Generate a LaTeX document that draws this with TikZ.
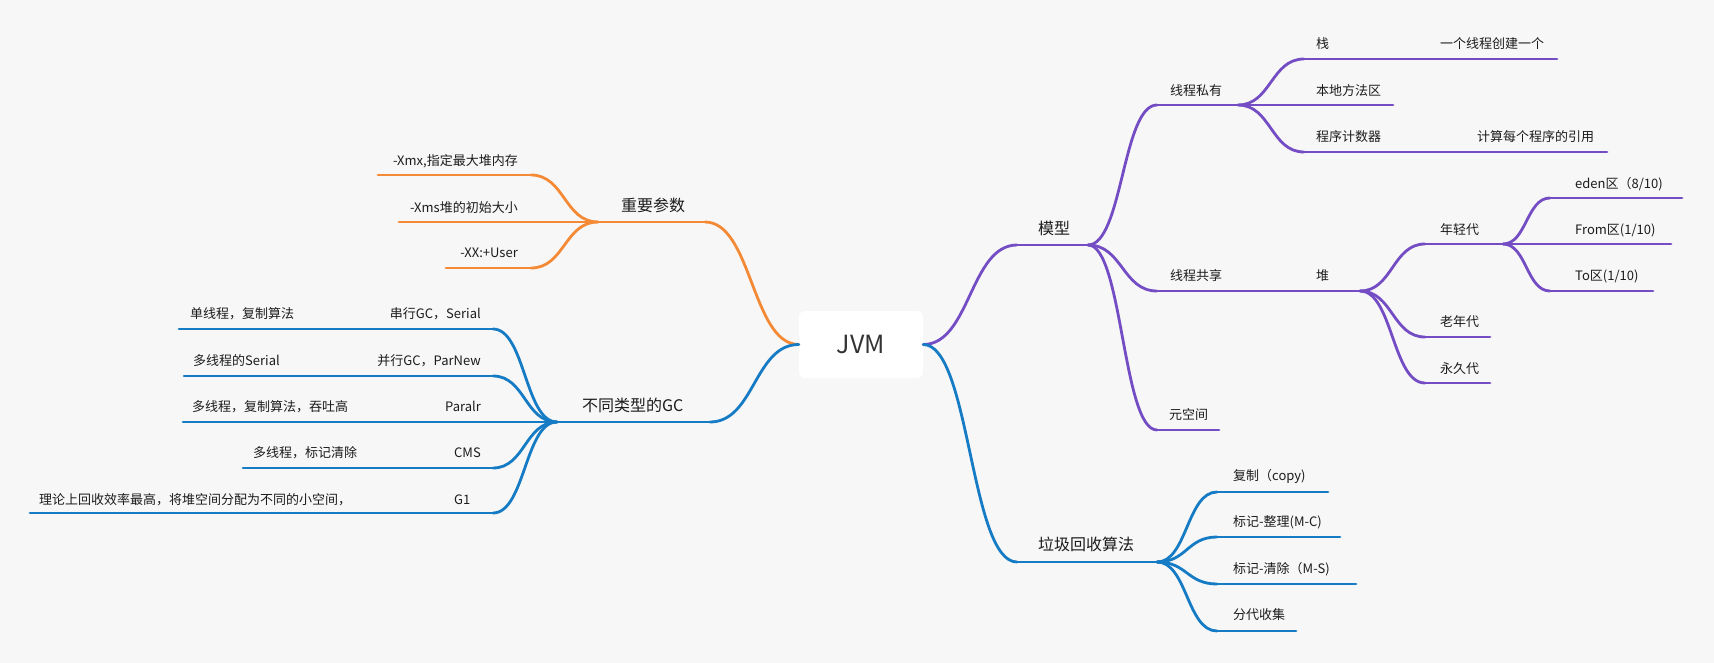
\documentclass[tikz,border=0pt]{standalone}
\usepackage{fontspec}
\setmainfont{Noto Sans CJK SC}
\usetikzlibrary{calc}
\definecolor{bgc}{HTML}{F7F7F7}
\definecolor{txtc}{HTML}{1C1C1C}
\definecolor{jvmc}{HTML}{333333}
\definecolor{orc}{HTML}{F48A36}
\definecolor{puc}{HTML}{744DC4}
\definecolor{blc}{HTML}{157BC4}
\tikzset{
  tx/.style={anchor=west, inner sep=0pt, text=txtc, font=\fontsize{13}{15}\selectfont, text height=0.88em, text depth=0.12em},
  txe/.style={tx, anchor=east},
  bigtx/.style={tx, font=\fontsize{16}{19}\selectfont},
  jvmbox/.style={fill=white, rounded corners=6pt, minimum width=124pt, minimum height=67pt, inner sep=0pt, text=jvmc, font=\fontsize{25}{28}\selectfont},
  orl/.style={draw=orc, line width=2.8pt, line cap=round},
  pul/.style={draw=puc, line width=2.8pt, line cap=round},
  bll/.style={draw=blc, line width=2.8pt, line cap=round}
}
\newcommand\mmlink[3]{\path ($(#2)!0.5!(#3)$) coordinate (mmmid); \draw[#1] (#2) .. controls (mmmid |- #2) and (mmmid |- #3) .. (#3);}
\begin{document}
\begin{tikzpicture}[x=1pt,y=-1pt]
\fill[bgc] (0,0) rectangle (1714,663);
\useasboundingbox (0,0) rectangle (1714,663);

\node[jvmbox] (jvm) at (861,344.5) {JVM};

% ---------- right side: 模型 ----------
\coordinate (mxL) at (1017,245); \coordinate (mxR) at (1088,245);
\coordinate (sL) at (1157,105); \coordinate (sR) at (1238,105);
\coordinate (zhanL) at (1304,59); \coordinate (zhanR) at (1430,59);
\coordinate (yigeL) at (1430,59); \coordinate (yigeR) at (1557,59);
\coordinate (bdL) at (1304,105); \coordinate (bdR) at (1393,105);
\coordinate (pcL) at (1304,152); \coordinate (pcR) at (1465,152);
\coordinate (jsL) at (1465,152); \coordinate (jsR) at (1607,152);
\coordinate (gxL) at (1157,291); \coordinate (gxR) at (1304,291);
\coordinate (duiL) at (1304,291); \coordinate (duiR) at (1360,291);
\coordinate (nqL) at (1425,244); \coordinate (nqR) at (1503,244);
\coordinate (edL) at (1550,198); \coordinate (edR) at (1682,198);
\coordinate (frL) at (1550,244); \coordinate (frR) at (1671,244);
\coordinate (toL) at (1550,291); \coordinate (toR) at (1653,291);
\coordinate (lnL) at (1425,337); \coordinate (lnR) at (1490,337);
\coordinate (yjL) at (1425,383); \coordinate (yjR) at (1490,383);
\coordinate (ykL) at (1157,430); \coordinate (ykR) at (1219,430);

\foreach \a/\b in {mxL/mxR, sL/sR, zhanL/zhanR, yigeL/yigeR, bdL/bdR, pcL/pcR, jsL/jsR, gxL/gxR, duiL/duiR, nqL/nqR, edL/edR, frL/frR, toL/toR, lnL/lnR, yjL/yjR, ykL/ykR}
  \draw[pul] (\a) -- (\b);
\mmlink{pul}{jvm.east}{mxL}
\mmlink{pul}{mxR}{sL}
\mmlink{pul}{mxR}{gxL}
\mmlink{pul}{mxR}{ykL}
\mmlink{pul}{sR}{zhanL}
\mmlink{pul}{sR}{bdL}
\mmlink{pul}{sR}{pcL}
\mmlink{pul}{duiR}{nqL}
\mmlink{pul}{duiR}{lnL}
\mmlink{pul}{duiR}{yjL}
\mmlink{pul}{nqR}{edL}
\mmlink{pul}{nqR}{frL}
\mmlink{pul}{nqR}{toL}

\node[bigtx] (mx) at (1038,231) {模型};
\node[tx] (s) at (1170,92) {线程私有};
\node[tx] (zhan) at (1316,45) {栈};
\node[tx] (yige) at (1440,45) {一个线程创建一个};
\node[tx] (bd) at (1316,92) {本地方法区};
\node[tx] (pc) at (1316,138) {程序计数器};
\node[tx] (js) at (1477,138) {计算每个程序的引用};
\node[tx] (gx) at (1170,277) {线程共享};
\node[tx] (dui) at (1316,277) {堆};
\node[tx] (nq) at (1440,231) {年轻代};
\node[tx] (ed) at (1575,185) {eden区（8/10)};
\node[tx] (fr) at (1575,231) {From区(1/10)};
\node[tx] (to) at (1575,277) {To区(1/10)};
\node[tx] (ln) at (1440,323) {老年代};
\node[tx] (yj) at (1440,370) {永久代};
\node[tx] (yk) at (1169,416) {元空间};

% ---------- right side: 垃圾回收算法 ----------
\coordinate (ljL) at (1017,562); \coordinate (ljR) at (1157,562);
\coordinate (fzL) at (1217,492); \coordinate (fzR) at (1328,492);
\coordinate (zlL) at (1217,537); \coordinate (zlR) at (1340,537);
\coordinate (qcL) at (1217,584); \coordinate (qcR) at (1356,584);
\coordinate (fdL) at (1217,631); \coordinate (fdR) at (1296,631);
\foreach \a/\b in {ljL/ljR, fzL/fzR, zlL/zlR, qcL/qcR, fdL/fdR}
  \draw[bll] (\a) -- (\b);
\mmlink{bll}{jvm.east}{ljL}
\mmlink{bll}{ljR}{fzL}
\mmlink{bll}{ljR}{zlL}
\mmlink{bll}{ljR}{qcL}
\mmlink{bll}{ljR}{fdL}
\node[bigtx] (lj) at (1038,547) {垃圾回收算法};
\node[tx] (fz) at (1233,477) {复制（copy)};
\node[tx] (zl) at (1233,523) {标记-整理(M-C)};
\node[tx] (qc) at (1233,570) {标记-清除（M-S)};
\node[tx] (fd) at (1233,616) {分代收集};

% ---------- left side: 重要参数 ----------
\coordinate (csL) at (598,222); \coordinate (csR) at (705,222);
\coordinate (xmxL) at (378,175); \coordinate (xmxR) at (531,175);
\coordinate (xmsL) at (399,222); \coordinate (xmsR) at (531,222);
\coordinate (xxL) at (446,268); \coordinate (xxR) at (531,268);
\foreach \a/\b in {csL/csR, xmxL/xmxR, xmsL/xmsR, xxL/xxR}
  \draw[orl] (\a) -- (\b);
\mmlink{orl}{jvm.west}{csR}
\mmlink{orl}{csL}{xmxR}
\mmlink{orl}{csL}{xmsR}
\mmlink{orl}{csL}{xxR}
\node[bigtx] (cs) at (621,208) {重要参数};
\node[txe] (xmx) at (518,162) {-Xmx,指定最大堆内存};
\node[txe] (xms) at (518,209) {-Xms堆的初始大小};
\node[txe] (xx) at (518,254) {-XX:+User};

% ---------- left side: 不同类型的GC ----------
\coordinate (gcL) at (557,422); \coordinate (gcR) at (710,422);
\coordinate (cxL) at (380,329); \coordinate (cxR) at (493,329);
\coordinate (dxL) at (179,329); \coordinate (dxR) at (380,329);
\coordinate (bxL) at (365,376); \coordinate (bxR) at (493,376);
\coordinate (dsL) at (184,376); \coordinate (dsR) at (365,376);
\coordinate (plL) at (435,422); \coordinate (plR) at (493,422);
\coordinate (dfL) at (183,422); \coordinate (dfR) at (435,422);
\coordinate (cmL) at (440,468); \coordinate (cmR) at (493,468);
\coordinate (dbL) at (243,468); \coordinate (dbR) at (440,468);
\coordinate (g1L) at (440,513); \coordinate (g1R) at (493,513);
\coordinate (llL) at (30,513); \coordinate (llR) at (440,513);
\foreach \a/\b in {gcL/gcR, cxL/cxR, dxL/dxR, bxL/bxR, dsL/dsR, plL/plR, dfL/dfR, cmL/cmR, dbL/dbR, g1L/g1R, llL/llR}
  \draw[bll] (\a) -- (\b);
\mmlink{bll}{jvm.west}{gcR}
\mmlink{bll}{gcL}{cxR}
\mmlink{bll}{gcL}{bxR}
\mmlink{bll}{gcL}{plR}
\mmlink{bll}{gcL}{cmR}
\mmlink{bll}{gcL}{g1R}
\node[bigtx] (gc) at (582,408) {不同类型的GC};
\node[txe] (cx) at (481,315) {串行GC，Serial};
\node[tx] (dx) at (190,315) {单线程，复制算法};
\node[txe] (bx) at (481,362) {并行GC，ParNew};
\node[tx] (ds) at (193,362) {多线程的Serial};
\node[txe] (pl) at (481,408) {Paralr};
\node[tx] (df) at (192,408) {多线程，复制算法，吞吐高};
\node[tx] (cm) at (454,454) {CMS};
\node[tx] (db) at (253,454) {多线程，标记清除};
\node[tx] (g1) at (454,501) {G1};
\node[tx] (ll) at (39,501) {理论上回收效率最高，将堆空间分配为不同的小空间，};
\end{tikzpicture}
\end{document}
